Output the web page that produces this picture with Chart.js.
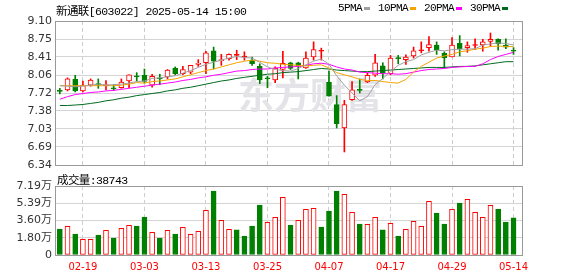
<!DOCTYPE html>
<html>
<head>
<meta charset="utf-8">
<script src="https://cdn.jsdelivr.net/npm/chart.js@4.4.1/dist/chart.umd.min.js"></script>
<style>
  body { margin: 0; background: #fff; }
  #wrap { position: relative; width: 578px; height: 276px; overflow: hidden; }
  #price { position: absolute; left: 0; top: 0; }
  #vol { position: absolute; left: 0; top: 170px; }
  .txt { position: absolute; white-space: nowrap; color: #000;
         font: 11px "Liberation Mono", "Noto Sans CJK SC", monospace; letter-spacing: -0.6px; }
  #legend { position: absolute; left: 338px; top: 2px; display: flex; align-items: center; }
  #legend span.dash { display: inline-block; width: 6px; height: 3px; margin: 0 8px 0 2px; }
</style>
</head>
<body>
<div id="wrap">
  <canvas id="price" width="578" height="180"></canvas>
  <canvas id="vol" width="578" height="106"></canvas>
  <div class="txt" style="left:56px;top:2px;font-size:11.5px">新通联[603022] 2025-05-14 15:00</div>
  <div id="legend" class="txt"></div>
  <div class="txt" style="left:57px;top:171px;font-size:11.5px">成交量:38743</div>
</div>
<script>
// trading days shown
const dates = ['02-14','02-17','02-18','02-19','02-20','02-21','02-24','02-25','02-26','02-27','02-28',
  '03-03','03-04','03-05','03-06','03-07','03-10','03-11','03-12','03-13','03-14','03-17','03-18','03-19',
  '03-20','03-21','03-24','03-25','03-26','03-27','03-28','03-31','04-01','04-02','04-03','04-07','04-08',
  '04-09','04-10','04-11','04-14','04-15','04-16','04-17','04-18','04-21','04-22','04-23','04-24','04-25',
  '04-28','04-29','04-30','05-06','05-07','05-08','05-09','05-12','05-13','05-14'];

const openP = [7.76,7.78,7.98,7.76,7.87,7.90,7.86,7.81,7.82,7.95,
  8.04,8.06,7.87,8.00,8.03,8.20,8.09,8.12,8.27,8.30,
  8.53,8.34,8.38,8.44,8.41,8.35,8.23,8.00,7.97,8.17,
  8.30,8.30,8.20,8.41,8.52,7.93,7.50,7.05,7.59,7.78,
  7.93,8.06,8.24,8.09,8.39,8.36,8.43,8.53,8.59,8.64,
  8.48,8.41,8.67,8.59,8.63,8.64,8.71,8.75,8.64,8.53];
const closeP = [7.75,7.99,7.76,7.87,7.97,7.87,7.88,7.80,7.93,8.07,
  8.03,7.94,8.04,7.99,8.16,8.09,8.17,8.25,8.29,8.49,
  8.33,8.36,8.46,8.44,8.41,8.28,7.97,7.99,8.20,8.29,
  8.19,8.23,8.39,8.55,8.53,7.66,7.13,7.50,7.78,7.77,
  8.06,8.30,8.11,8.39,8.38,8.41,8.53,8.54,8.65,8.55,
  8.39,8.64,8.57,8.63,8.64,8.70,8.75,8.66,8.60,8.52];
const highP = [7.81,8.01,8.06,7.95,7.99,7.99,7.96,7.88,7.99,8.07,
  8.11,8.18,8.08,8.08,8.17,8.22,8.23,8.25,8.36,8.52,
  8.60,8.46,8.47,8.54,8.51,8.41,8.28,8.04,8.22,8.52,
  8.31,8.31,8.51,8.70,8.58,8.14,7.67,7.58,7.94,7.99,
  8.11,8.46,8.30,8.44,8.44,8.45,8.60,8.70,8.80,8.70,
  8.51,8.78,8.82,8.70,8.76,8.75,8.87,8.76,8.76,8.59];
const lowP = [7.70,7.76,7.74,7.74,7.85,7.81,7.78,7.77,7.81,7.82,
  7.95,7.91,7.83,7.88,7.99,8.07,8.07,8.09,8.23,8.09,
  8.18,8.25,8.35,8.36,8.35,8.25,7.90,7.82,7.92,8.01,
  8.17,7.99,8.19,8.35,8.35,7.66,7.05,6.59,7.58,7.72,
  7.92,8.04,7.99,8.07,8.28,8.27,8.39,8.49,8.52,8.46,
  8.20,8.41,8.43,8.50,8.55,8.52,8.62,8.54,8.57,8.46];

// volume in 万
const volume = [2.71,2.99,2.19,1.63,1.63,2.08,2.57,1.77,2.78,3.09,
  3.02,3.96,2.36,1.77,2.57,2.19,2.89,2.16,2.47,4.66,
  6.67,3.61,2.68,2.61,1.98,3.02,5.21,3.41,3.93,6.01,
  3.13,3.61,4.76,4.87,2.92,4.58,6.67,6.32,4.45,3.23,
  3.20,3.93,2.61,3.30,1.98,2.68,3.51,2.99,5.60,4.38,
  3.23,4.76,5.42,5.80,4.45,3.93,5.18,4.79,3.44,3.8743];

const ma5 = [7.86,7.85,7.84,7.85,7.87,7.89,7.87,7.88,7.89,7.91,
  7.94,7.95,8.00,8.01,8.03,8.05,8.10,8.15,8.21,8.27,
  8.31,8.35,8.39,8.42,8.40,8.39,8.31,8.22,8.17,8.15,
  8.14,8.19,8.26,8.33,8.37,8.27,8.05,7.87,7.72,7.57,
  7.65,7.88,8.00,8.13,8.25,8.32,8.36,8.45,8.50,8.54,
  8.53,8.55,8.56,8.56,8.57,8.64,8.66,8.68,8.67,8.64];
const ma10 = [7.86,7.86,7.86,7.86,7.86,7.86,7.86,7.86,7.87,7.89,
  7.92,7.91,7.94,7.95,7.97,7.99,8.03,8.07,8.11,8.15,
  8.18,8.22,8.26,8.30,8.33,8.35,8.33,8.30,8.29,8.27,
  8.26,8.25,8.24,8.25,8.26,8.20,8.11,8.07,8.03,7.98,
  7.96,7.96,7.94,7.92,7.91,7.98,8.12,8.23,8.31,8.39,
  8.43,8.46,8.51,8.53,8.56,8.58,8.61,8.62,8.61,8.61];
const ma20 = [7.60,7.65,7.69,7.71,7.73,7.74,7.76,7.77,7.79,7.81,
  7.83,7.85,7.87,7.89,7.91,7.93,7.96,7.98,8.01,8.03,
  8.06,8.08,8.11,8.14,8.15,8.17,8.18,8.18,8.20,8.21,
  8.22,8.23,8.25,8.28,8.29,8.27,8.22,8.18,8.16,8.12,
  8.11,8.10,8.09,8.09,8.08,8.09,8.12,8.15,8.17,8.18,
  8.19,8.21,8.22,8.23,8.23,8.28,8.36,8.42,8.46,8.50];
const ma30 = [7.48,7.48,7.49,7.50,7.52,7.54,7.57,7.59,7.62,7.64,
  7.67,7.69,7.71,7.73,7.76,7.78,7.81,7.83,7.86,7.89,
  7.92,7.95,7.97,8.00,8.02,8.04,8.06,8.08,8.09,8.11,
  8.12,8.13,8.15,8.17,8.19,8.18,8.16,8.15,8.14,8.13,
  8.13,8.14,8.15,8.16,8.17,8.18,8.19,8.20,8.21,8.21,
  8.21,8.22,8.23,8.23,8.24,8.26,8.28,8.30,8.32,8.32];

const maNames = ['5PMA', '10PMA', '20PMA', '30PMA'];
const priceTicks = [6.34, 6.69, 7.03, 7.38, 7.72, 8.06, 8.41, 8.75, 9.10];
const volTicks = [0, 1.80, 3.60, 5.39, 7.19];
const tickDates = ['02-19', '03-03', '03-13', '03-25', '04-07', '04-17', '04-29', '05-14'];

const RED = '#ff0000';
const GREEN = '#008000';
const maColors = ['#a0a0a0', '#f5a300', '#ff00ff', '#006b1e'];

Chart.defaults.font.family = '"DejaVu Sans", "Noto Sans CJK SC", sans-serif';

// legend
const legend = document.getElementById('legend');
maNames.forEach((name, k) => {
  legend.insertAdjacentHTML('beforeend',
    `<span>${name}</span><span class="dash" style="background:${maColors[k]}"></span>`);
});

const idx = dates.map((d, i) => i);
const tickIdx = tickDates.map(d => dates.indexOf(d));
const isUp = i => closeP[i] >= openP[i];
const candleColor = idx.map(i => isUp(i) ? RED : GREEN);
const bodyFill = idx.map(i => {
  if (!isUp(i)) return GREEN;
  return Math.abs(closeP[i] - openP[i]) < 0.015 ? RED : '#fff';
});
// volume colour follows the change from the previous close
const volUp = idx.map(i => i === 0 ? isUp(0) : closeP[i] >= closeP[i - 1]);

function xScale(showLabels) {
  return {
    type: 'linear',
    min: -0.5,
    max: 60.1,
    offset: false,
    grid: { color: '#cccccc', drawTicks: false, offset: false },
    border: { display: false, dash: [4, 3] },
    afterBuildTicks: s => { s.ticks = tickIdx.map(v => ({ value: v })); },
    ticks: {
      display: showLabels, autoSkip: false, maxRotation: 0,
      color: RED, font: { size: 10 }, padding: 6,
      callback: v => dates[v]
    },
    afterFit: s => { s.height = showLabels ? 21 : 0; }
  };
}

const frame = {
  id: 'frame',
  afterDraw(chart) {
    const { ctx, chartArea: a } = chart;
    ctx.save();
    ctx.strokeStyle = '#999';
    ctx.lineWidth = 1;
    ctx.strokeRect(a.left - 0.5, a.top + 0.5, a.right - a.left + 1, a.bottom - a.top);
    ctx.restore();
  }
};

const watermark = {
  id: 'watermark',
  beforeDatasetsDraw(chart) {
    const ctx = chart.ctx;
    ctx.save();
    ctx.fillStyle = '#e4e4e8';
    ctx.font = 'bold 36px "Noto Sans CJK SC"';
    ctx.textBaseline = 'middle';
    ctx.fillText('东方财富', 238, 95);
    ctx.restore();
  }
};

const maSets = [ma5, ma10, ma20, ma30].map((arr, k) => ({
  type: 'line',
  label: maNames[k],
  data: idx.map(i => ({ x: i, y: arr[i] })),
  borderColor: maColors[k],
  borderWidth: 1,
  pointRadius: 0,
  tension: 0,
  order: 0
}));

new Chart(document.getElementById('price'), {
  type: 'bar',
  data: {
    datasets: [
      ...maSets,
      {
        label: 'body',
        data: idx.map(i => ({ x: i, y: [openP[i], closeP[i]] })),
        backgroundColor: bodyFill,
        borderColor: candleColor,
        borderWidth: 1,
        borderSkipped: false,
        barThickness: 5,
        minBarLength: 1,
        grouped: false,
        order: 1
      },
      {
        label: 'wick',
        data: idx.map(i => ({ x: i, y: [lowP[i], highP[i]] })),
        backgroundColor: candleColor,
        borderWidth: 0,
        barThickness: 1,
        grouped: false,
        order: 2
      }
    ]
  },
  options: {
    responsive: false,
    animation: false,
    devicePixelRatio: 1,
    layout: { padding: { top: 21, right: 56, bottom: 15, left: 0 } },
    plugins: { legend: { display: false }, tooltip: { enabled: false } },
    scales: {
      x: xScale(false),
      y: {
        type: 'linear', min: 6.34, max: 9.10, beginAtZero: false,
        grid: { color: '#d4d4d4', drawTicks: false },
        border: { display: false },
        afterBuildTicks: s => { s.ticks = priceTicks.map(v => ({ value: v })); },
        ticks: { color: '#333', font: { size: 11 }, padding: 4, callback: v => v.toFixed(2) },
        afterFit: s => { s.width = 56; }
      }
    }
  },
  plugins: [frame, watermark]
});

new Chart(document.getElementById('vol'), {
  type: 'bar',
  data: {
    datasets: [{
      label: '成交量',
      data: idx.map(i => ({ x: i, y: volume[i] })),
      backgroundColor: idx.map(i => volUp[i] ? '#fff' : GREEN),
      borderColor: idx.map(i => volUp[i] ? RED : GREEN),
      borderWidth: 1,
      borderSkipped: false,
      barThickness: 5,
      grouped: false
    }]
  },
  options: {
    responsive: false,
    animation: false,
    devicePixelRatio: 1,
    layout: { padding: { top: 16, right: 56, bottom: 0, left: 0 } },
    plugins: { legend: { display: false }, tooltip: { enabled: false } },
    scales: {
      x: xScale(true),
      y: {
        type: 'linear', min: 0, max: 7.19,
        grid: { color: '#d4d4d4', drawTicks: false },
        border: { display: false },
        afterBuildTicks: s => { s.ticks = volTicks.map(v => ({ value: v })); },
        ticks: { color: '#333', font: { size: 11 }, padding: 4,
          callback: v => v === 0 ? '0' : v.toFixed(2) + '万' },
        afterFit: s => { s.width = 56; }
      }
    }
  },
  plugins: [frame]
});
</script>
</body>
</html>
